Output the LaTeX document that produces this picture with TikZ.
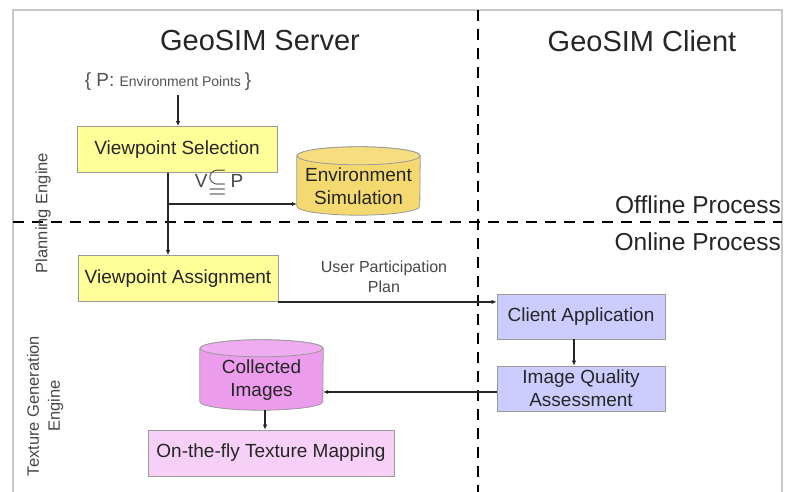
\documentclass[tikz,border=0pt]{standalone}
\usepackage{amssymb}
\usepackage{graphicx}
\usepackage{fontspec}
\setmainfont{Liberation Sans}
\usetikzlibrary{arrows.meta,calc}

\definecolor{txt}{HTML}{262626}
\definecolor{boxline}{HTML}{9A9A9A}
\definecolor{plany}{HTML}{FFFF99}
\definecolor{envgold}{HTML}{F4D870}
\definecolor{envtop}{HTML}{F6DE80}
\definecolor{collv}{HTML}{EC9CEC}
\definecolor{colltop}{HTML}{F0ACF0}
\definecolor{mappink}{HTML}{F7D0F7}
\definecolor{clientb}{HTML}{CCCCFF}
\definecolor{framegray}{HTML}{C8C8C8}

% fill a vertical drum around a (borderless) node: name, body colour, top colour, x radius, y radius
\newcommand\drumshape[5]{%
  \filldraw[fill=#2,draw=boxline,line width=0.8pt]
    ($(#1.north west)+(0,-#5)$) -- ($(#1.south west)+(0,#5)$)
    arc[start angle=180,end angle=360,x radius=#4,y radius=#5]
    -- ($(#1.north east)+(0,-#5)$)
    arc[start angle=0,end angle=180,x radius=#4,y radius=#5] -- cycle;
  \filldraw[fill=#3,draw=boxline,line width=0.8pt]
    ($(#1.north)+(0,-#5)$) ellipse[x radius=#4,y radius=#5];
}

\tikzset{
  procbox/.style={draw=boxline,line width=0.8pt,text=txt,font=\fontsize{19}{23}\selectfont,
    inner sep=0pt,align=center},
  drumnode/.style={inner sep=0pt,text=txt,font=\fontsize{19}{23}\selectfont,align=center},
  flow/.style={draw=txt,line width=1.3pt,-{Latex[length=5pt,width=4.5pt]}},
  flowline/.style={draw=txt,line width=1.3pt},
  divider/.style={draw=black,line width=2.3pt,dash pattern=on 11pt off 8pt},
  heading/.style={text=txt,font=\fontsize{29}{33}\selectfont,inner sep=0pt},
  phase/.style={text=txt,font=\fontsize{24.5}{28}\selectfont,inner sep=0pt,anchor=east},
  engine/.style={text=txt!85,font=\fontsize{16.5}{21}\selectfont,rotate=90,align=center,inner sep=0pt},
  note/.style={text=txt!85,font=\fontsize{16}{20}\selectfont,align=center,inner sep=0pt}
}

\begin{document}
\begin{tikzpicture}[x=1pt,y=1pt]
\useasboundingbox (0,0) rectangle (789,492);

% outer frame (open at the bottom)
\draw[framegray,line width=1.6pt] (13,-5) -- (13,482) -- (782,482) -- (782,-5);

% server / client and offline / online dividers
\draw[divider] (478,482) -- (478,-5);
\draw[divider] (13,270) -- (782,270);

% headings
\node[heading] (server) at (260,451) {GeoSIM Server};
\node[heading] (client) at (642,451) {GeoSIM Client};
\node[phase] (offline) at (781,287) {Offline Process};
\node[phase] (online) at (781,250) {Online Process};

% engine labels
\node[engine] (planning) at (43,279) {Planning Engine};
\node[engine] (texgen) at (45,86) {Texture Generation\\Engine};

% input point set
\node[text=txt!80,inner sep=0pt] (points) at (168,410)
  {\fontsize{19}{22}\selectfont\{ P:\ \fontsize{14}{17}\selectfont Environment Points\ \fontsize{19}{22}\selectfont\}};
\coordinate (pin) at (178,397);

% planning boxes
\node[procbox,fill=plany,minimum width=200pt,minimum height=46pt] (vs) at (177,342.5) {Viewpoint Selection};
\node[procbox,fill=plany,minimum width=200pt,minimum height=46pt] (va) at (178,213.5) {Viewpoint Assignment};

% environment simulation store
\node[drumnode,minimum width=123pt,minimum height=68pt] (env) at (358.5,311) {};
\drumshape{env}{envgold}{envtop}{61.5}{9}
\node[drumnode] (envtext) at (358.5,306) {Environment\\Simulation};

% client boxes
\node[procbox,fill=clientb,minimum width=168pt,minimum height=45pt] (ca) at (581,175.5) {Client Application};
\node[procbox,fill=clientb,minimum width=168pt,minimum height=45pt] (iqa) at (581,103.5) {Image Quality\\Assessment};

% collected images store
\node[drumnode,minimum width=123pt,minimum height=70pt] (ci) at (261.5,117) {};
\drumshape{ci}{collv}{colltop}{61.5}{8.5}
\node[drumnode] (citext) at (261.5,112) {Collected\\Images};

% texture mapping
\node[procbox,fill=mappink,minimum width=246pt,minimum height=46pt] (otf) at (271,39) {On-the-fly Texture Mapping};

% connectors
\draw[flow] (pin) -- (pin |- vs.north);
\coordinate (split) at (168,288);
\draw[flowline] (vs.south -| split) -- (split);
\draw[flow] (split) -- (va.north -| split);
\draw[flow] (split) -- (split -| env.west);
\node[text=txt!85,font=\fontsize{19}{22}\selectfont,inner sep=0pt] (subset) at (219,309)
  {V\raisebox{-1.5pt}{\scalebox{1.35}{$\subseteqq$}}\,P};

\draw[flow] (va.south east) -- (va.south east -| ca.west);
\node[note] (upp) at (384,215) {User Participation\\Plan};

\draw[flow] ([xshift=-7pt]ca.south) -- ([xshift=-7pt]iqa.north);
\draw[flow] ([yshift=-3.5pt]iqa.west) -- ([yshift=-3.5pt]iqa.west -| ci.east);
\draw[flow] ([xshift=3.5pt]ci.south) -- ([xshift=3.5pt]ci.south |- otf.north);
\end{tikzpicture}
\end{document}
